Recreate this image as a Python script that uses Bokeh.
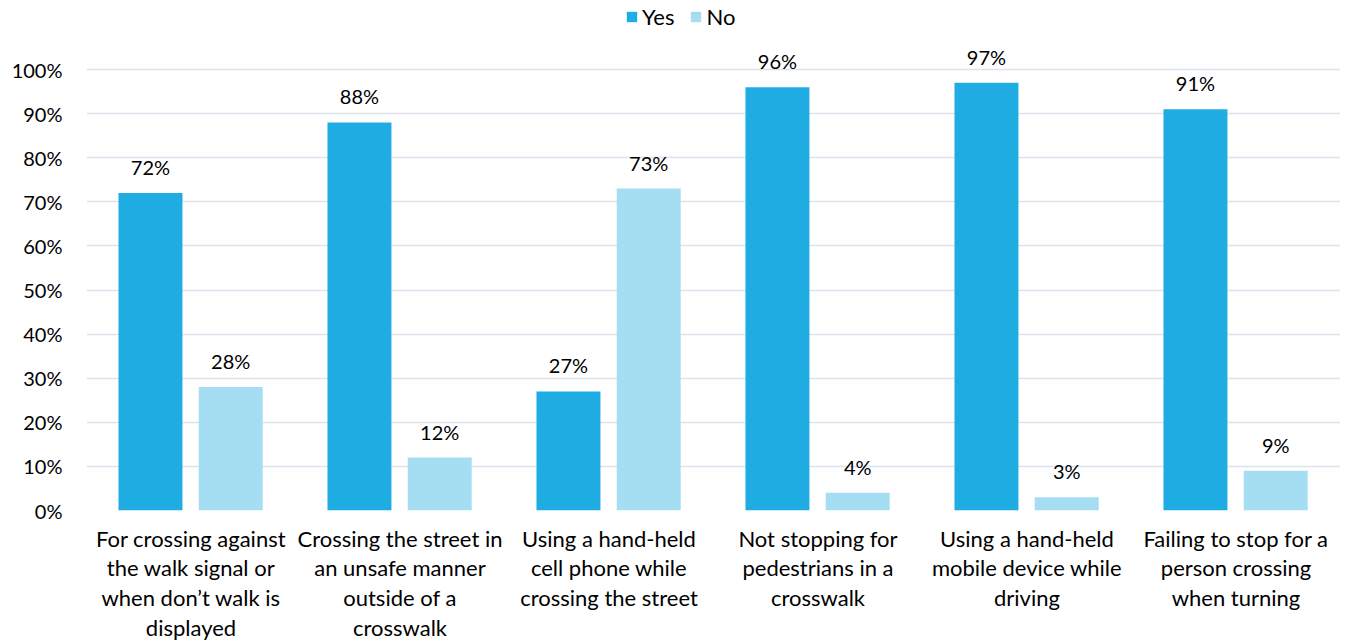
from bokeh.plotting import figure
from bokeh.models import ColumnDataSource, FactorRange, Range1d, FixedTicker, PrintfTickFormatter
from bokeh.transform import dodge
from bokeh.core.properties import value
from bokeh.embed import file_html
from bokeh.resources import INLINE

categories = [
    "For crossing against\nthe walk signal or\nwhen don\u2019t walk is\ndisplayed",
    "Crossing the street in\nan unsafe manner\noutside of a\ncrosswalk",
    "Using a hand-held\ncell phone while\ncrossing the street",
    "Not stopping for\npedestrians in a\ncrosswalk",
    "Using a hand-held\nmobile device while\ndriving",
    "Failing to stop for a\nperson crossing\nwhen turning",
]
yes_values = [72, 88, 27, 96, 97, 91]
no_values = [28, 12, 73, 4, 3, 9]
y_ticks = [0, 10, 20, 30, 40, 50, 60, 70, 80, 90, 100]

YES_COLOR = "#1EACE3"
NO_COLOR = "#A5DDF2"
FONT = "Lato"
FS = "20px"
FS_CAT = "22px"

src = ColumnDataSource(dict(
    cat=categories,
    yes=yes_values,
    no=no_values,
    yes_lbl=[f"{v}%" for v in yes_values],
    no_lbl=[f"{v}%" for v in no_values],
))

p = figure(
    x_range=FactorRange(factors=categories),
    y_range=Range1d(0, 115.65),
    frame_width=1254, frame_height=510,
    min_border_left=86, min_border_right=0, min_border_top=0, min_border_bottom=0,
    output_backend="svg", toolbar_location=None,
)

p.vbar(x=dodge("cat", -0.194, range=p.x_range), top="yes", width=0.306, source=src,
       color=YES_COLOR, line_color=None, legend_label="Yes")
p.vbar(x=dodge("cat", 0.19, range=p.x_range), top="no", width=0.306, source=src,
       color=NO_COLOR, line_color=None, legend_label="No")

for col, lbl, off in (("yes", "yes_lbl", -0.194), ("no", "no_lbl", 0.19)):
    p.text(x=dodge("cat", off, range=p.x_range), y=col, text=lbl, source=src,
           text_font=value(FONT), text_font_size=FS, text_color="#000000",
           text_align="center", text_baseline="alphabetic", y_offset=-26)

p.outline_line_color = None
p.background_fill_color = "white"
p.border_fill_color = "white"
p.xgrid.grid_line_color = None
p.ygrid.grid_line_color = "#D9E4EE"
p.ygrid.grid_line_width = 1.5
p.ygrid.ticker = FixedTicker(ticks=y_ticks)

p.yaxis.ticker = FixedTicker(ticks=y_ticks)
p.yaxis.formatter = PrintfTickFormatter(format="%d%%")
for ax in (p.xaxis[0], p.yaxis[0]):
    ax.axis_line_color = None
    ax.major_tick_line_color = None
    ax.minor_tick_line_color = None
    ax.major_label_text_font = FONT
    ax.major_label_text_color = "#000000"
p.yaxis.major_label_text_font_size = FS
p.xaxis.major_label_text_font_size = FS_CAT
p.yaxis.major_label_standoff = 18
p.xaxis.major_label_standoff = 8
p.xaxis.major_label_text_line_height = 1.1
p.xaxis.major_label_orientation = "horizontal"

lg = p.legend[0]
lg.location = (539, 480)
lg.orientation = "horizontal"
lg.border_line_color = None
lg.background_fill_alpha = 0
lg.padding = 0
lg.margin = 0
lg.spacing = 15
lg.glyph_width = 13
lg.glyph_height = 13
lg.label_standoff = 4
lg.label_height = 26
lg.label_text_font = FONT
lg.label_text_font_size = "22px"
lg.label_text_color = "#000000"

open("out.html", "w").write(file_html(p, INLINE))
